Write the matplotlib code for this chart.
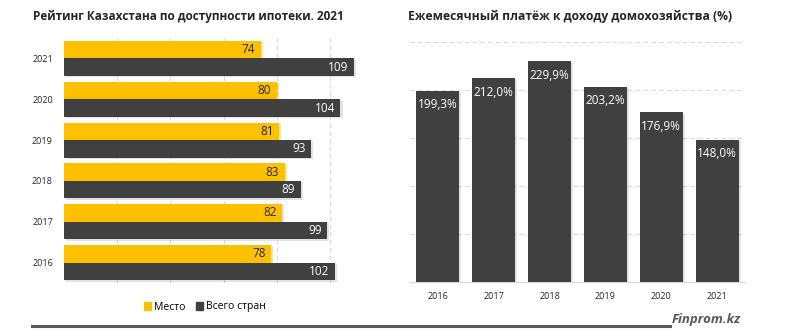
import matplotlib
matplotlib.use("Agg")
import matplotlib.pyplot as plt
import matplotlib.patheffects as pe
from matplotlib.patches import Patch
from matplotlib.lines import Line2D
import numpy as np

plt.rcParams["font.family"] = ["Open Sans", "DejaVu Sans"]

# left chart: rating
years = ["2016", "2017", "2018", "2019", "2020", "2021"]
place = [78, 82, 83, 81, 80, 74]
total = [102, 99, 89, 93, 104, 109]

# right chart: monthly payment to household income
pay_years = ["2016", "2017", "2018", "2019", "2020", "2021"]
payment = [199.3, 212.0, 229.9, 203.2, 176.9, 148.0]

YELLOW = "#FFC000"
DARK = "#404040"
GRID = "#D9D9D9"

shadow = [pe.SimplePatchShadow(offset=(1.5, -1), shadow_rgbFace="#8c8c8c", alpha=0.25), pe.Normal()]

fig = plt.figure(figsize=(8, 3.32), dpi=100)

# ---- left
ax1 = fig.add_axes([64 / 800, 1 - 283 / 332, 319 / 800, 245 / 332])
y = np.arange(len(years))
h = 0.43
b1 = ax1.barh(y + h / 2, place, height=h, color=YELLOW, zorder=3)
b2 = ax1.barh(y - h / 2, total, height=h, color=DARK, zorder=3)
for b in list(b1) + list(b2):
    b.set_path_effects(shadow)
for b, v in zip(b1, place):
    ax1.annotate(str(v), (b.get_width(), b.get_y() + b.get_height() / 2), xytext=(-4, 0),
                 textcoords="offset points", ha="right", va="center", fontsize=8.5, color="#262626", zorder=4)
for b, v in zip(b2, total):
    ax1.annotate(str(v), (b.get_width(), b.get_y() + b.get_height() / 2), xytext=(-4, 0),
                 textcoords="offset points", ha="right", va="center", fontsize=8.5, color="white", zorder=4)
ax1.set_xlim(0, 120)
ax1.set_ylim(-0.5, 5.5)
ax1.set_xticks(np.arange(20, 121, 20))
ax1.xaxis.grid(True, color=GRID, linestyle=(0, (4, 3)), lw=0.8, zorder=0)
ax1.tick_params(axis="x", length=0, labelbottom=False)
ax1.set_yticks(y)
ax1.set_yticklabels(years, fontsize=6.5, color="#262626")
ax1.tick_params(axis="y", length=0, pad=8)
for s in ax1.spines.values():
    s.set_visible(False)

fig.text(188 / 800, 1 - 16 / 332, "Рейтинг Казахстана по доступности ипотеки. 2021",
         ha="center", va="center", fontsize=8.5, fontweight="bold", color="#262626")

handles = [Patch(color=YELLOW, label="Место"), Patch(color=DARK, label="Всего стран")]
fig.legend(handles=handles, loc="center", bbox_to_anchor=(205 / 800, 1 - 307 / 332), ncol=2,
           frameon=False, fontsize=7.5, handlelength=0.7, handleheight=0.7, handletextpad=0.3,
           columnspacing=1.0)

# ---- right
ax2 = fig.add_axes([410 / 800, 1 - 282 / 332, 335 / 800, 240 / 332])
x = np.arange(len(pay_years))
b3 = ax2.bar(x, payment, width=0.77, color=DARK, zorder=3)
for b in b3:
    b.set_path_effects(shadow)
for b, v in zip(b3, payment):
    ax2.annotate(f"{v:.1f}%".replace(".", ","), (b.get_x() + b.get_width() / 2, b.get_height()),
                 xytext=(0, -10), textcoords="offset points", ha="center", va="center",
                 fontsize=8.5, color="white", zorder=4)
ax2.set_ylim(0, 250)
ax2.set_xlim(-0.5, 5.5)
ax2.set_yticks(np.arange(50, 251, 50))
ax2.yaxis.grid(True, color=GRID, linestyle=(0, (4, 3)), lw=0.8, zorder=0)
ax2.tick_params(axis="y", length=0, labelleft=False)
ax2.set_xticks(x)
ax2.set_xticklabels(pay_years, fontsize=6.5, color="#262626")
ax2.tick_params(axis="x", length=0, pad=7)
for s in ax2.spines.values():
    s.set_visible(False)
ax2.spines["bottom"].set_visible(True)
ax2.spines["bottom"].set_color(GRID)

fig.text(570 / 800, 1 - 16 / 332, "Ежемесячный платёж к доходу домохозяйства (%)",
         ha="center", va="center", fontsize=8.7, fontweight="bold", color="#262626")

# footer
fig.add_artist(Line2D([32 / 800, 670 / 800], [1 - 326 / 332] * 2, color="#595959", lw=2.2))
fig.text(706 / 800, 1 - 320 / 332, "Finprom.kz", ha="center", va="center", fontsize=9.5,
         fontweight="bold", fontstyle="italic", color="#595959")

fig.savefig("out.png", dpi=100, facecolor="white")
